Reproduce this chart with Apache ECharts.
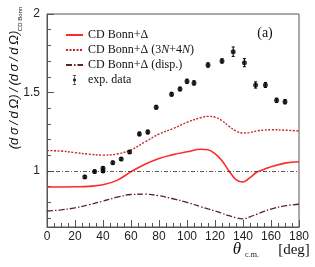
<!DOCTYPE html>
<html><head><meta charset="utf-8">
<script src="https://cdn.jsdelivr.net/npm/echarts@6/dist/echarts.min.js"></script>
<style>html,body{margin:0;padding:0;background:#fff}#c{width:315px;height:267px}</style>
</head><body><div id="c"></div>
<script>
// ---- data ----
const expAngles = [27,34,40,40,47,53,59,66,72,78,89,95,100,105,115,125,133,141,149,156,164,170];
const expValues = [0.962,0.996,1.000,1.017,1.053,1.076,1.121,1.236,1.248,1.406,1.489,1.522,1.571,1.561,1.675,1.701,1.760,1.690,1.548,1.548,1.450,1.441];
const expErrors = [0.010,0.010,0.010,0.010,0.010,0.010,0.010,0.012,0.012,0.012,0.012,0.012,0.014,0.014,0.014,0.014,0.030,0.026,0.020,0.016,0.014,0.014];

const curveAngles = [0,10,20,30,40,50,60,70,80,90,100,110,115,120,125,130,135,140,145,150,155,160,170,180];
const bonnDelta   = [0.898,0.898,0.899,0.902,0.912,0.940,0.995,1.043,1.080,1.104,1.122,1.138,1.135,1.110,1.065,1.000,0.945,0.930,0.958,0.993,1.010,1.027,1.050,1.059];
const bonn3N4N    = [1.130,1.127,1.117,1.107,1.101,1.108,1.135,1.185,1.235,1.270,1.310,1.340,1.348,1.343,1.320,1.285,1.255,1.242,1.245,1.255,1.260,1.263,1.260,1.255];
const bonnDisp    = [0.745,0.752,0.765,0.785,0.808,0.833,0.850,0.852,0.842,0.823,0.800,0.772,0.758,0.745,0.730,0.715,0.702,0.695,0.708,0.725,0.742,0.757,0.778,0.788];

const xTicks = {min:0, max:180, interval:20};
const yMajor = [1,1.5,2];
const yMinor = [0.7,0.8,0.9,1.1,1.2,1.3,1.4,1.6,1.7,1.8,1.9];
const names = ['CD Bonn+Δ','CD Bonn+Δ (3N+4N)','CD Bonn+Δ (disp.)','exp. data'];

const zip = (a,b)=>a.map((v,i)=>[v,b[i]]);
const chart = echarts.init(document.getElementById('c'), null, {renderer:'canvas'});
const sans = 'Liberation Sans', serif = 'Liberation Serif';
const frame = '#555';

const option = {
  animation:false,
  backgroundColor:'#fff',
  grid:{left:47,right:16,top:14,bottom:40,show:true,borderColor:frame,borderWidth:1},
  legend:{
    orient:'vertical', left:65, top:28, padding:0, itemGap:1, itemWidth:17, itemHeight:10,
    textStyle:{fontFamily:serif,fontSize:12,color:'#111',lineHeight:14,
      rich:{a:{fontFamily:serif,fontSize:12,lineHeight:14,color:'#111'},i:{fontFamily:serif,fontSize:12,fontStyle:'italic',lineHeight:14,color:'#111'}}},
    formatter:function(n){ if(n===names[1]) return '{a|CD Bonn+Δ (3}{i|N}{a|+4}{i|N}{a|)}'; return n; },
    data:[
      {name:names[0],itemStyle:{opacity:0}},{name:names[1],itemStyle:{opacity:0}},{name:names[2],itemStyle:{opacity:0}},
      {name:names[3], icon:'path://M4.6,0H5.4V12H4.6Z M3,0H7V0.8H3Z M3,11.2H7V12H3Z M5,4A2,2 0 1 1 5,8A2,2 0 1 1 5,4Z'}
    ]
  },
  xAxis:{
    type:'value', min:xTicks.min, max:xTicks.max, interval:xTicks.interval,
    axisLine:{lineStyle:{color:frame,width:1}},
    axisTick:{inside:true,length:7,lineStyle:{color:frame}},
    minorTick:{show:true,splitNumber:4,length:4,lineStyle:{color:frame}},
    splitLine:{show:false},
    axisLabel:{margin:4,fontFamily:sans,fontSize:12,color:'#222'}
  },
  yAxis:[{
    type:'value', min:0.643, max:2, position:'left',
    axisLine:{show:true,lineStyle:{color:frame,width:1}},
    axisTick:{show:true,inside:true,length:7,customValues:yMajor,lineStyle:{color:frame}},
    axisLabel:{customValues:yMajor,margin:7,fontFamily:sans,fontSize:12,color:'#222',
      formatter:v=>String(Math.round(v*10)/10)},
    splitLine:{show:false}
  },{
    type:'value', min:0.643, max:2, position:'left',
    axisLine:{show:false},
    axisTick:{show:true,inside:true,length:4,customValues:yMinor,lineStyle:{color:frame}},
    axisLabel:{show:false},
    splitLine:{show:false}
  }],
  series:[
    {name:names[0],type:'line',smooth:0.4,symbol:'none',data:zip(curveAngles,bonnDelta),
      lineStyle:{color:'#ff2a2a',width:1.6},itemStyle:{color:'#ff2a2a'},
      markLine:{silent:true,symbol:'none',label:{show:false},
        lineStyle:{color:'#333',width:0.8,type:[4,2,1,2]},data:[{yAxis:1}]}},
    {name:names[1],type:'line',smooth:0.4,symbol:'none',data:zip(curveAngles,bonn3N4N),
      lineStyle:{color:'#c02828',width:1.4,type:[2,1.5]},itemStyle:{color:'#c02828'}},
    {name:names[2],type:'line',smooth:0.4,symbol:'none',data:zip(curveAngles,bonnDisp),
      lineStyle:{color:'#5e2424',width:1.3,type:[6,2,1.5,2]},itemStyle:{color:'#5e2424'}},
    {name:names[3],type:'scatter',symbol:'circle',symbolSize:5,data:zip(expAngles,expValues),
      itemStyle:{color:'#000'},z:5},
    {name:names[3],type:'custom',z:4,
      data:expAngles.map((a,i)=>[a,expValues[i],expErrors[i]]),
      renderItem:function(params,api){
        const x=api.value(0),y=api.value(1),e=api.value(2);
        const t=api.coord([x,y+e]), b=api.coord([x,y-e]);
        return {type:'group',children:[
          {type:'line',shape:{x1:t[0],y1:t[1],x2:b[0],y2:b[1]},style:{stroke:'#000',lineWidth:1}},
          {type:'line',shape:{x1:t[0]-1.5,y1:t[1],x2:t[0]+1.5,y2:t[1]},style:{stroke:'#000',lineWidth:1}},
          {type:'line',shape:{x1:b[0]-1.5,y1:b[1],x2:b[0]+1.5,y2:b[1]},style:{stroke:'#000',lineWidth:1}}
        ]};
      }}
  ],
  graphic:[
    {type:'text',x:14,y:90,rotation:Math.PI/2,
      style:{text:'(d\u2009σ\u2009/\u2009d\u2009Ω)\u2009/\u2009(d\u2009σ\u2009/\u2009d\u2009Ω)',font:'italic 13px "Liberation Sans"',fill:'#111',
        align:'center',verticalAlign:'middle',textAlign:'center',textVerticalAlign:'middle'}},
    {type:'text',x:20,y:19,rotation:Math.PI/2,
      style:{text:'CD Bonn',font:'6px "Liberation Sans"',fill:'#111',
        align:'center',verticalAlign:'middle',textAlign:'center',textVerticalAlign:'middle'}},
    {type:'text',x:237,y:250,
      style:{text:'θ',font:'italic 17px "Liberation Serif"',fill:'#111',
        align:'center',verticalAlign:'middle',textAlign:'center',textVerticalAlign:'middle'}},
    {type:'text',x:252,y:255,
      style:{text:'c.m.',font:'8px "Liberation Serif"',fill:'#111',
        align:'center',verticalAlign:'middle',textAlign:'center',textVerticalAlign:'middle'}},
    {type:'text',x:294,y:250,
      style:{text:'[deg]',font:'15px "Liberation Serif"',fill:'#111',
        align:'center',verticalAlign:'middle',textAlign:'center',textVerticalAlign:'middle'}},
    {type:'text',x:265,y:33,
      style:{text:'(a)',font:'14px "Liberation Serif"',fill:'#111',
        align:'center',verticalAlign:'middle',textAlign:'center',textVerticalAlign:'middle'}}
  ]
};
chart.setOption(option);
</script></body></html>
